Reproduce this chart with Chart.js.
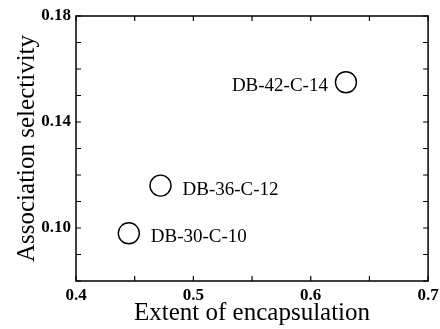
<!DOCTYPE html>
<html lang="en">
<head>
    <meta charset="UTF-8">
    <title>Association selectivity vs extent of encapsulation</title>
    <script src="https://cdn.jsdelivr.net/npm/chart.js"></script>
    <style>
        * { margin: 0; padding: 0; box-sizing: border-box; }
        body { background: white; width: 440px; height: 329px; overflow: hidden; }
        #wrap { position: relative; width: 440px; height: 329px; }
    </style>
</head>
<body>
    <div id="wrap"><canvas id="chart"></canvas></div>

    <script>
        // values
        const compounds = ['DB-30-C-10', 'DB-36-C-12', 'DB-42-C-14'];
        const encapsulation = [0.445, 0.472, 0.630];
        const selectivity = [0.098, 0.116, 0.155];

        const yLabelled = [10, 14, 18];   // in hundredths
        const serif = "'Liberation Serif', 'Times New Roman', serif";

        // inward ticks on all four sides plus the frame
        const framePlugin = {
            id: 'frame',
            afterDraw(chart) {
                const { ctx, chartArea: a, scales: { x, y } } = chart;
                ctx.save();
                ctx.strokeStyle = '#000';
                ctx.lineWidth = 1.5;
                ctx.strokeRect(a.left, a.top, a.right - a.left, a.bottom - a.top);
                ctx.lineWidth = 1.2;
                ctx.beginPath();
                x.ticks.forEach(t => {
                    const px = x.getPixelForValue(t.value);
                    ctx.moveTo(px, a.bottom); ctx.lineTo(px, a.bottom - 5);
                    ctx.moveTo(px, a.top); ctx.lineTo(px, a.top + 5);
                });
                y.ticks.forEach(t => {
                    const py = y.getPixelForValue(t.value);
                    ctx.moveTo(a.left, py); ctx.lineTo(a.left + 5, py);
                    ctx.moveTo(a.right, py); ctx.lineTo(a.right - 5, py);
                });
                ctx.stroke();
                ctx.restore();
            }
        };

        // compound names next to their circles
        const namePlugin = {
            id: 'names',
            afterDatasetsDraw(chart) {
                const { ctx } = chart;
                const pts = chart.getDatasetMeta(0).data;
                ctx.save();
                ctx.font = '19px ' + serif;
                ctx.fillStyle = '#000';
                ctx.textBaseline = 'alphabetic';
                pts.forEach((p, i) => {
                    const onLeft = encapsulation[i] > 0.6;
                    ctx.textAlign = onLeft ? 'right' : 'left';
                    ctx.fillText(compounds[i], onLeft ? p.x - 18 : p.x + 22, p.y + 9);
                });
                ctx.restore();
            }
        };

        new Chart(document.getElementById('chart'), {
            type: 'scatter',
            data: {
                datasets: [{
                    label: 'compounds',
                    data: encapsulation.map((v, i) => ({ x: v, y: selectivity[i] })),
                    pointStyle: 'circle',
                    pointRadius: 10.5,
                    pointHoverRadius: 10.5,
                    borderColor: '#000',
                    borderWidth: 1.4,
                    backgroundColor: 'rgba(255,255,255,0)'
                }]
            },
            options: {
                responsive: true,
                maintainAspectRatio: false,
                animation: false,
                layout: { padding: { top: 16, right: 7, left: 0, bottom: 0 } },
                plugins: {
                    legend: { display: false },
                    tooltip: { enabled: false }
                },
                scales: {
                    x: {
                        type: 'linear',
                        min: 0.4,
                        max: 0.7,
                        grid: { display: false, drawTicks: false },
                        border: { display: false },
                        afterFit: s => { s.height = 48; s.paddingRight = 0; s.paddingLeft = 0; },
                        ticks: {
                            stepSize: 0.05,
                            padding: 4,
                            color: '#000',
                            maxRotation: 0,
                            autoSkip: false,
                            font: { family: serif, size: 17, weight: 'bold' },
                            callback: v => Math.round(v * 100) % 10 === 0 ? v.toFixed(1) : ''
                        },
                        title: {
                            display: true,
                            text: 'Extent of encapsulation',
                            color: '#000',
                            font: { family: serif, size: 25 },
                            padding: { top: 0, bottom: 1 }
                        }
                    },
                    y: {
                        type: 'linear',
                        min: 0.08,
                        max: 0.18,
                        grid: { display: false, drawTicks: false },
                        border: { display: false },
                        afterFit: s => { s.width = 76; },
                        ticks: {
                            stepSize: 0.01,
                            padding: 5,
                            color: '#000',
                            autoSkip: false,
                            font: { family: serif, size: 17, weight: 'bold' },
                            callback: v => yLabelled.includes(Math.round(v * 100)) ? v.toFixed(2) : ''
                        },
                        title: {
                            display: true,
                            text: 'Association selectivity',
                            color: '#000',
                            font: { family: serif, size: 25 },
                            padding: { top: 12, bottom: 0 }
                        }
                    }
                }
            },
            plugins: [framePlugin, namePlugin]
        });
    </script>
</body>
</html>
